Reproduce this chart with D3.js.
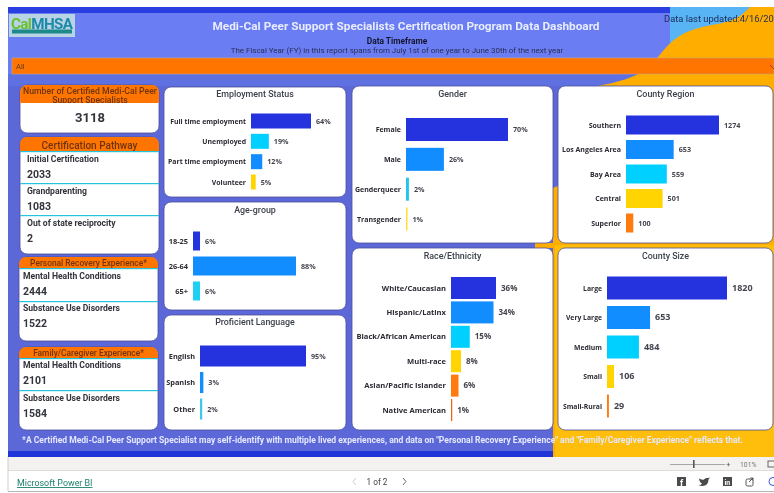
<!DOCTYPE html>
<html>
<head>
<meta charset="utf-8">
<script src="https://cdn.jsdelivr.net/npm/d3@7"></script>
<style>
  html, body { margin: 0; padding: 0; background: #fff; overflow: hidden; }
  svg { display: block; filter: blur(0.4px); }
  text { font-family: Roboto, "Open Sans", sans-serif; }
  .card { fill: #fff; stroke: #4a4f9a; stroke-width: 0.8; }
  .title { font-size: 8.9px; font-weight: 500; fill: #3a3f4a; text-anchor: middle; }
  .cat { font-family: "Open Sans", sans-serif; font-size: 7px; font-weight: 700; fill: #2b2b33; text-anchor: end; }
  .val { font-family: "Open Sans", sans-serif; font-size: 7.2px; font-weight: 700; fill: #44464f; }
  .kpi-head { font-size: 9px; font-weight: 500; fill: #6e3410; text-anchor: middle; }
  .kpi-label { font-size: 8.6px; font-weight: 700; fill: #33343c; }
  .kpi-value { font-size: 10.5px; font-weight: 700; fill: #33343c; }
</style>
</head>
<body>
<div id="chart"></div>
<script>
// data
const employmentCats = ['Full time employment', 'Unemployed', 'Part time employment', 'Volunteer'];
const employmentVals = [64, 19, 12, 5];
const ageCats = ['18-25', '26-64', '65+'];
const ageVals = [6, 88, 6];
const languageCats = ['English', 'Spanish', 'Other'];
const languageVals = [95, 3, 2];
const genderCats = ['Female', 'Male', 'Genderqueer', 'Transgender'];
const genderVals = [70, 26, 2, 1];
const raceCats = ['White/Caucasian', 'Hispanic/Latinx', 'Black/African American', 'Multi-race', 'Asian/Pacific Islander', 'Native American'];
const raceVals = [36, 34, 15, 8, 6, 1];
const regionCats = ['Southern', 'Los Angeles Area', 'Bay Area', 'Central', 'Superior'];
const regionVals = [1274, 653, 559, 501, 100];
const sizeCats = ['Large', 'Very Large', 'Medium', 'Small', 'Small-Rural'];
const sizeVals = [1820, 653, 484, 106, 29];

const pathwayLabels = ['Initial Certification', 'Grandparenting', 'Out of state reciprocity'];
const pathwayVals = [2033, 1083, 2];
const livedLabels = ['Mental Health Conditions', 'Substance Use Disorders'];
const personalVals = [2444, 1522];
const familyVals = [2101, 1584];
const totalCertified = 3118;

// colours per bar rank
const PALETTE = ['#2433de', '#118dff', '#00d0ff', '#ffd400', '#ff7a0f', '#e8661a'];
const GENDER_COLORS = ['#2433de', '#118dff', '#1fc8e8', '#ffdf2e'];
const AGE_COLORS = ['#2433de', '#118dff', '#1fd0f5'];
const LANG_COLORS = ['#2433de', '#118dff', '#3cc8f0'];
const EMP_COLORS = ['#2433de', '#00d0ff', '#118dff', '#ffd400'];

const W = 774;
const H = 493;

const $svg = d3.select('#chart').append('svg').attr('width', W).attr('height', H);

// background
$svg.append('rect').attr('width', W).attr('height', H).attr('fill', '#fff');
$svg.append('rect').attr('x', 8).attr('y', 7).attr('width', W - 8).attr('height', 450).attr('fill', '#5d68d8');
$svg.append('rect').attr('x', 8).attr('y', 13).attr('width', W - 8).attr('height', 67).attr('fill', '#6a7df2');
$svg.append('rect').attr('x', 8).attr('y', 74).attr('width', W - 8).attr('height', 12).attr('fill', '#5f70e0');
$svg.append('rect').attr('x', 8).attr('y', 7).attr('width', W - 8).attr('height', 6).attr('fill', '#2a3fe0');
$svg.append('rect').attr('x', 8).attr('y', 451).attr('width', W - 8).attr('height', 6).attr('fill', '#1f35d8');
$svg.append('rect').attr('x', 670).attr('y', 7).attr('width', 104).attr('height', 40).attr('fill', '#58b4f4');

// yellow blob behind the right side, gutter stays blue down to y 188
const blob = d3.line().curve(d3.curveBasis);
$svg.append('path')
  .attr('d', blob([[750, 7], [735, 22], [700, 26], [672, 38], [655, 62], [640, 75], [612, 84], [580, 88], [562, 100], [560, 185]])
    + `L553,188L553,457L${W},457L${W},7Z`)
  .attr('fill', '#ffae00');
$svg.append('rect').attr('x', 535).attr('y', 243).attr('width', 30).attr('height', 5).attr('fill', '#ffae00');
$svg.append('rect').attr('x', 555).attr('y', 245).attr('width', W - 555).attr('height', 212).attr('fill', '#ffbe0b');

// filter bar
$svg.append('rect').attr('x', 12).attr('y', 58).attr('width', W - 12).attr('height', 16).attr('fill', '#ff7500').attr('stroke', '#c9a27a').attr('stroke-width', 0.6);
$svg.append('text').attr('x', 16).attr('y', 68.5).attr('font-size', 7.5).attr('fill', '#5a3a20').text('All');
$svg.append('path').attr('d', 'M770,65l4,4l4,-4').attr('fill', 'none').attr('stroke', '#a33a00');

// header text
$svg.append('text').attr('x', 406).attr('y', 29.5).attr('text-anchor', 'middle').attr('font-family', '"Open Sans", sans-serif').attr('font-size', 11.8).attr('font-weight', 700).attr('fill', '#e8ecff').text('Medi-Cal Peer Support Specialists Certification Program Data Dashboard');
$svg.append('text').attr('x', 397).attr('y', 43.5).attr('text-anchor', 'middle').attr('font-family', '"Open Sans", sans-serif').attr('font-size', 8.4).attr('font-weight', 700).attr('fill', '#14162e').text('Data Timeframe');
$svg.append('text').attr('x', 397).attr('y', 53).attr('text-anchor', 'middle').attr('font-size', 7.95).attr('fill', '#2a2e55').text('The Fiscal Year (FY) in this report spans from July 1st of one year to June 30th of the next year');
$svg.append('text').attr('x', 664).attr('y', 22).attr('font-family', '"Liberation Sans", sans-serif').attr('font-size', 9.4).attr('fill', '#1d2a55').text('Data last updated:4/16/20');

// logo
$svg.append('rect').attr('x', 9).attr('y', 14).attr('width', 66).attr('height', 23).attr('fill', '#b8d4e4');
const $logo = $svg.append('text').attr('x', 11).attr('y', 29).attr('font-size', 15.2).attr('font-weight', 700).attr('font-family', '"Open Sans", sans-serif').attr('letter-spacing', -0.6);
$logo.append('tspan').attr('fill', '#6cc02c').text('Cal');
$logo.append('tspan').attr('fill', '#1c8aa8').text('MHSA');
$svg.append('rect').attr('x', 12).attr('y', 29.5).attr('width', 60).attr('height', 4).attr('fill', '#1d8a8a');

// bar panels
function barPanel({ box, title, cats, vals, colors, x0, xPx, first, last, barH, titleY, valSize, catSize }) {
  const $g = $svg.append('g');
  $g.append('rect').attr('class', 'card').attr('x', box[0]).attr('y', box[1]).attr('width', box[2] - box[0]).attr('height', box[3] - box[1]).attr('rx', 7);
  $g.append('text').attr('class', 'title').attr('x', (box[0] + box[2]) / 2).attr('y', titleY).text(title);

  const step = (last - first) / (cats.length - 1);
  const scaleY = d3.scaleBand().domain(cats)
    .range([first - step / 2, last + step / 2])
    .paddingInner(1 - barH / step)
    .paddingOuter((1 - barH / step) / 2);
  const scaleX = d3.scaleLinear().domain([0, d3.max(vals)]).range([x0, x0 + xPx]);

  const rows = cats.map((c, i) => ({ c, v: vals[i], color: colors[i] }));
  const $row = $g.selectAll('.row').data(rows).join('g').attr('class', 'row');

  $row.append('rect')
    .attr('x', x0)
    .attr('y', d => scaleY(d.c))
    .attr('width', d => Math.max(1, scaleX(d.v) - x0))
    .attr('height', scaleY.bandwidth())
    .attr('fill', d => d.color);

  $row.append('text').attr('class', 'cat')
    .attr('x', x0 - 5)
    .attr('y', d => scaleY(d.c) + scaleY.bandwidth() / 2 + 2.6)
    .style('font-size', catSize ? `${catSize}px` : null)
    .text(d => d.c);

  const isPct = d3.max(vals) <= 100;
  $row.append('text').attr('class', 'val')
    .attr('x', d => Math.max(x0 + 1, scaleX(d.v)) + 5)
    .attr('y', d => scaleY(d.c) + scaleY.bandwidth() / 2 + 2.6)
    .style('font-size', valSize ? `${valSize}px` : null)
    .text(d => (isPct ? `${d.v}%` : d.v));
}

barPanel({ box: [164, 87, 346, 197], title: 'Employment Status', titleY: 96.5, cats: employmentCats, vals: employmentVals, colors: EMP_COLORS, x0: 251, xPx: 60, first: 121, last: 182, barH: 15, catSize: 6.9 });
barPanel({ box: [164, 202, 346, 310], title: 'Age-group', titleY: 213, cats: ageCats, vals: ageVals, colors: AGE_COLORS, x0: 193, xPx: 103, first: 241, last: 291, barH: 19, catSize: 7.4 });
barPanel({ box: [164, 315, 346, 430], title: 'Proficient Language', titleY: 325, cats: languageCats, vals: languageVals, colors: LANG_COLORS, x0: 200, xPx: 106, first: 356, last: 409, barH: 21, catSize: 7.4 });
barPanel({ box: [352, 86, 553, 243], title: 'Gender', titleY: 97, cats: genderCats, vals: genderVals, colors: GENDER_COLORS, x0: 406, xPx: 102, first: 129.5, last: 219, barH: 23 });
barPanel({ box: [352, 248, 553, 430], title: 'Race/Ethnicity', titleY: 259, cats: raceCats, vals: raceVals, colors: PALETTE, x0: 451, xPx: 45, first: 288, last: 410, barH: 22, valSize: 8, catSize: 7.6 });
barPanel({ box: [558, 86, 773, 243], title: 'County Region', titleY: 96.5, cats: regionCats, vals: regionVals, colors: PALETTE, x0: 626, xPx: 93, first: 125, last: 223, barH: 19 });
barPanel({ box: [558, 248, 773, 430], title: 'County Size', titleY: 258.5, cats: sizeCats, vals: sizeVals, colors: PALETTE, x0: 607, xPx: 120, first: 288, last: 406, barH: 23, valSize: 9, catSize: 6.8 });

// left column cards
function kpiCard({ box, head, headH, headSize, labels, vals, labelX, rowH, firstY, rule, valGap }) {
  const id = `clip-${box[1]}`;
  const $g = $svg.append('g');
  $g.append('clipPath').attr('id', id).append('rect').attr('x', box[0]).attr('y', box[1]).attr('width', box[2] - box[0]).attr('height', box[3] - box[1]).attr('rx', 7);
  $g.append('rect').attr('class', 'card').attr('x', box[0]).attr('y', box[1]).attr('width', box[2] - box[0]).attr('height', box[3] - box[1]).attr('rx', 7);
  $g.append('rect').attr('clip-path', `url(#${id})`).attr('x', box[0]).attr('y', box[1]).attr('width', box[2] - box[0]).attr('height', headH).attr('fill', '#ff7500');
  $g.append('rect').attr('x', box[0]).attr('y', box[1] + headH).attr('width', box[2] - box[0]).attr('height', 1.2).attr('fill', '#25c4dc');
  $g.append('text').attr('class', 'kpi-head').attr('x', (box[0] + box[2]) / 2).attr('y', box[1] + headH - 2.5).style('font-size', `${headSize}px`).text(head);

  labels.forEach((label, i) => {
    const y = firstY + i * rowH;
    $g.append('text').attr('class', 'kpi-label').attr('x', labelX).attr('y', y).text(label);
    $g.append('text').attr('class', 'kpi-value').attr('x', labelX).attr('y', y + valGap).text(vals[i]);
    if (i < labels.length - 1) {
      $g.append('rect').attr('x', box[0]).attr('y', y + rule).attr('width', box[2] - box[0]).attr('height', 1.2).attr('fill', '#25c4dc');
    }
  });
}

// total card has a wrapped, clipped header
const totalBox = [20, 85, 159, 133];
$svg.append('clipPath').attr('id', 'clip-total').append('rect').attr('x', 20).attr('y', 85).attr('width', 139).attr('height', 18);
$svg.append('rect').attr('class', 'card').attr('x', totalBox[0]).attr('y', totalBox[1]).attr('width', totalBox[2] - totalBox[0]).attr('height', totalBox[3] - totalBox[1]).attr('rx', 7);
const $totalHead = $svg.append('g').attr('clip-path', 'url(#clip-total)');
$totalHead.append('rect').attr('x', 20).attr('y', 85).attr('width', 139).attr('height', 22).attr('fill', '#ff7500').attr('rx', 7);
$totalHead.append('text').attr('class', 'kpi-head').attr('x', 90).attr('y', 93.5).style('font-size', '8.7px').text('Number of Certified Medi-Cal Peer');
$totalHead.append('text').attr('class', 'kpi-head').attr('x', 90).attr('y', 103).style('font-size', '8.7px').text('Support Specialists');
$svg.append('text').attr('x', 90).attr('y', 122).attr('text-anchor', 'middle').attr('font-size', 13).attr('font-weight', 700).attr('fill', '#33343c').text(totalCertified);

kpiCard({ box: [20, 137, 159, 254], head: 'Certification Pathway', headH: 14, headSize: 10, labels: pathwayLabels, vals: pathwayVals, labelX: 27, rowH: 32, firstY: 162, rule: 21, valGap: 16 });
kpiCard({ box: [19, 257, 158, 341], head: 'Personal Recovery Experience*', headH: 11, headSize: 8.4, labels: livedLabels, vals: personalVals, labelX: 23, rowH: 32, firstY: 279, rule: 22, valGap: 16 });
kpiCard({ box: [19, 347, 158, 430], head: 'Family/Caregiver Experience*', headH: 11, headSize: 8.4, labels: livedLabels, vals: familyVals, labelX: 23, rowH: 33, firstY: 368, rule: 22, valGap: 16 });

// footnote
$svg.append('text').attr('x', 22).attr('y', 443).attr('font-family', '"Open Sans", sans-serif').attr('font-size', 8.55).attr('font-weight', 700).attr('fill', '#e4e8ff')
  .text('*A Certified Medi-Cal Peer Support Specialist may self-identify with multiple lived experiences, and data on "Personal Recovery Experience" and "Family/Caregiver Experience" reflects that.');

// power bi chrome
$svg.append('rect').attr('x', 8).attr('y', 457).attr('width', W - 8).attr('height', 13).attr('fill', '#f3f2f1');
$svg.append('line').attr('x1', 8).attr('x2', W).attr('y1', 470.5).attr('y2', 470.5).attr('stroke', '#dedcda');
$svg.append('line').attr('x1', 8).attr('x2', W).attr('y1', 491.5).attr('y2', 491.5).attr('stroke', '#b8b6b4');
$svg.append('line').attr('x1', 8).attr('x2', 8).attr('y1', 457).attr('y2', 491).attr('stroke', '#cfcdcb');
$svg.append('line').attr('x1', 670).attr('x2', 725).attr('y1', 464.5).attr('y2', 464.5).attr('stroke', '#a8a6a4');
$svg.append('rect').attr('x', 693).attr('y', 460).attr('width', 1.6).attr('height', 8).attr('fill', '#555');
$svg.append('text').attr('x', 726).attr('y', 467).attr('font-size', 8).attr('fill', '#555').text('+');
$svg.append('text').attr('x', 740).attr('y', 467).attr('font-size', 6.8).attr('fill', '#777').text('101%');
$svg.append('rect').attr('x', 768).attr('y', 461).attr('width', 8).attr('height', 6).attr('fill', 'none').attr('stroke', '#666');
$svg.append('text').attr('x', 17).attr('y', 486).attr('font-size', 8.9).attr('fill', '#1b7f6e').attr('text-decoration', 'underline').text('Microsoft Power BI');
$svg.append('text').attr('x', 377).attr('y', 485).attr('text-anchor', 'middle').attr('font-size', 8.2).attr('fill', '#444').text('1 of 2');
$svg.append('path').attr('d', 'M356,478l-3,3.5l3,3.5').attr('fill', 'none').attr('stroke', '#ccc');
$svg.append('path').attr('d', 'M403,478l3,3.5l-3,3.5').attr('fill', 'none').attr('stroke', '#666');

// share icons
$svg.append('rect').attr('x', 677).attr('y', 477).attr('width', 9).attr('height', 9).attr('fill', '#4a4a4a');
$svg.append('text').attr('x', 680).attr('y', 485.5).attr('font-size', 9).attr('font-weight', 700).attr('fill', '#fff').text('f');
$svg.append('path').attr('d', 'M699,478.5q4,2 5,1q1,-2 4,-1.5l2,-0.5l-1.5,2q0,6 -6,6.5q-2,0 -4,-1q3,0 3.5,-1.5q-2.5,-1 -3,-5z').attr('fill', '#4a4a4a');
$svg.append('rect').attr('x', 723).attr('y', 477).attr('width', 9).attr('height', 9).attr('fill', '#4a4a4a');
$svg.append('text').attr('x', 724.5).attr('y', 484.5).attr('font-size', 7).attr('font-weight', 700).attr('fill', '#fff').text('in');
$svg.append('rect').attr('x', 746).attr('y', 479).attr('width', 7).attr('height', 7).attr('rx', 1.5).attr('fill', 'none').attr('stroke', '#555');
$svg.append('path').attr('d', 'M749,482l4,-4m-2.5,0h2.5v2.5').attr('fill', 'none').attr('stroke', '#555');
$svg.append('circle').attr('cx', 773).attr('cy', 481.5).attr('r', 4).attr('fill', 'none').attr('stroke', '#3a56d0');
</script>
</body>
</html>
